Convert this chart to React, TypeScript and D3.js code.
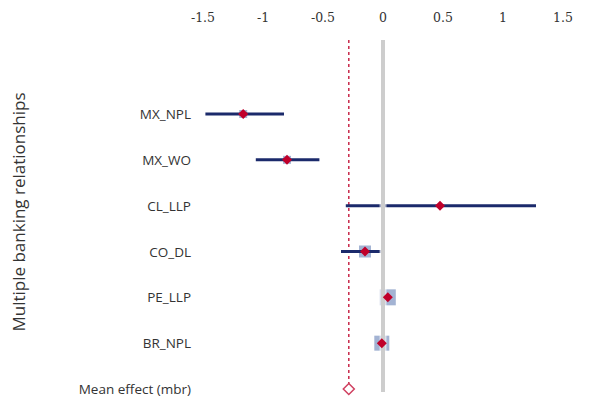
import React from "react";
import * as d3 from "d3";

const studies = ["MX_NPL", "MX_WO", "CL_LLP", "CO_DL", "PE_LLP", "BR_NPL"];
const estimates = [-1.165, -0.8, 0.475, -0.15, 0.04, -0.01];
const lower = [-1.48, -1.06, -0.31, -0.35, 0.04, -0.01];
const upper = [-0.825, -0.53, 1.275, -0.02, 0.04, -0.01];
const weights = [8, 8, 4, 12, 16, 15];
const meanLabel = "Mean effect (mbr)";
const meanEffect = -0.285;
const xTicks = [-1.5, -1, -0.5, 0, 0.5, 1, 1.5];
const yTitle = "Multiple banking relationships";

export default function App() {
  const W = 589, H = 402;
  const x = d3.scaleLinear().domain([-1.5, 1.5]).range([203, 563]);
  const rows = [...studies, meanLabel];
  const y = d3.scalePoint<string>().domain(rows).range([114, 389]);
  const diamond = (cx: number, cy: number, r: number) =>
    `M${cx},${cy - r}L${cx + r},${cy}L${cx},${cy + r}L${cx - r},${cy}Z`;
  const fmt = (v: number) => (v === 0 ? "0" : String(v));
  return (
    <svg width={W} height={H} style={{ position: "absolute", left: 0, top: 0, background: "#fff" }}>
      {xTicks.map((t) => (
        <text key={t} x={x(t)} y={22} textAnchor="middle" fontFamily="'DejaVu Serif', serif" fontSize={12.5} fill="#333">
          {fmt(t)}
        </text>
      ))}
      <text
        transform={`translate(25,${212}) rotate(-90)`}
        textAnchor="middle"
        fontFamily="'Open Sans', sans-serif"
        fontSize={17}
        fill="#333"
      >
        {yTitle}
      </text>
      {rows.map((r) => (
        <text
          key={r}
          x={191}
          y={y(r)! + 5}
          textAnchor="end"
          fontFamily="'Open Sans', sans-serif"
          fontSize={r === meanLabel ? 13.5 : 13.5}
          fill="#333"
        >
          {r}
        </text>
      ))}
      {/* mean effect dashed line */}
      <line x1={x(meanEffect)} x2={x(meanEffect)} y1={40} y2={384} stroke="#c8284a" strokeWidth={1.5} strokeDasharray="3,3" />
      {studies.map((s, i) => (
        <g key={s}>
          <rect
            x={x(estimates[i]) - weights[i] / 2}
            y={y(s)! - weights[i] / 2}
            width={weights[i]}
            height={weights[i]}
            fill="#a3b3d3"
          />
          <line x1={x(lower[i])} x2={x(upper[i])} y1={y(s)} y2={y(s)} stroke="#1b2a6b" strokeWidth={3} />
        </g>
      ))}
      {/* zero line */}
      <line x1={x(0)} x2={x(0)} y1={40} y2={392} stroke="#fff" strokeWidth={7} opacity={0.6} />
      <line x1={x(0)} x2={x(0)} y1={40} y2={392} stroke="#cdcdcd" strokeWidth={4} />
      {studies.map((s, i) => (
        <path key={s} d={diamond(x(estimates[i]), y(s)!, 5)} fill="#c0002a" />
      ))}
      <path d={diamond(x(meanEffect), y(meanLabel)!, 5.5)} fill="#fff" stroke="#d04060" strokeWidth={1.5} />
    </svg>
  );
}
